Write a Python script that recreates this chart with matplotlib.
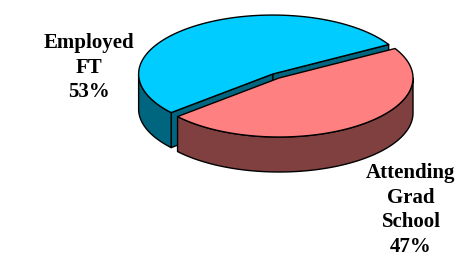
import numpy as np
import matplotlib
matplotlib.use("Agg")
import matplotlib.pyplot as plt
from matplotlib.patches import Polygon

# data
labels = ["Employed\nFT", "Attending\nGrad\nSchool"]
values = [53, 47]
top_colors = ["#00CCFF", "#FF8080"]
side_colors = ["#006680", "#804040"]
explode = [11, 0]

W, H = 466, 257
CX, CY = 279, 78          # centre of top face (pixels, y down)
A, B = 134, 59            # ellipse half axes
DEPTH = 35                # thickness of the pie
START = np.radians(30.0)  # where the first slice begins (ccw)


def pt(t, ox, oy, dz=0):
    return (CX + ox + A * np.cos(t), CY + oy - B * np.sin(t) + dz)


fig = plt.figure(figsize=(W / 100, H / 100), dpi=100)
ax = fig.add_axes([0, 0, 1, 1])
ax.set_xlim(0, W)
ax.set_ylim(H, 0)
ax.axis("off")

total = float(sum(values))
angles = []
t = START
for v in values:
    span = 2 * np.pi * v / total
    angles.append((t, t + span))
    t += span

# back slices first
order = sorted(range(len(values)),
               key=lambda i: -np.sin((angles[i][0] + angles[i][1]) / 2))

kw = dict(edgecolor="black", linewidth=1.0, joinstyle="round")
for i in order:
    t0, t1 = angles[i]
    mid = (t0 + t1) / 2
    ox = explode[i] * np.cos(mid)
    oy = -explode[i] * np.sin(mid) * B / A
    c_top = (CX + ox, CY + oy)
    c_bot = (CX + ox, CY + oy + DEPTH)

    # cut faces that face the viewer
    for te, visible in ((t0, np.cos(t0) > 0), (t1, np.cos(t1) < 0)):
        if visible:
            poly = [c_top, pt(te, ox, oy), pt(te, ox, oy, DEPTH), c_bot]
            ax.add_patch(Polygon(poly, closed=True, facecolor=side_colors[i], **kw))

    # outer wall on the front half
    ts = np.linspace(t0, t1, 400)
    front = np.sin(ts) < 0
    runs = []
    cur = []
    for tt, f in zip(ts, front):
        if f:
            cur.append(tt)
        elif cur:
            runs.append(cur)
            cur = []
    if cur:
        runs.append(cur)
    for run in runs:
        upper = [pt(tt, ox, oy) for tt in run]
        lower = [pt(tt, ox, oy, DEPTH) for tt in run[::-1]]
        ax.add_patch(Polygon(upper + lower, closed=True,
                             facecolor=side_colors[i], **kw))

    # top face
    arc = [pt(tt, ox, oy) for tt in ts]
    ax.add_patch(Polygon([c_top] + arc, closed=True,
                         facecolor=top_colors[i], **kw))

# labels
label_pos = [(89, 48), (411, 178)]
font = dict(family=["Liberation Serif", "DejaVu Serif"], weight="bold",
            fontsize=15, ha="center", va="baseline")
for lab, v, (x, y) in zip(labels, values, label_pos):
    lines = lab.split("\n") + [f"{v}%"]
    for k, line in enumerate(lines):
        ax.text(x, y + k * 24.6, line, **font)

fig.savefig("out.png", dpi=100)
